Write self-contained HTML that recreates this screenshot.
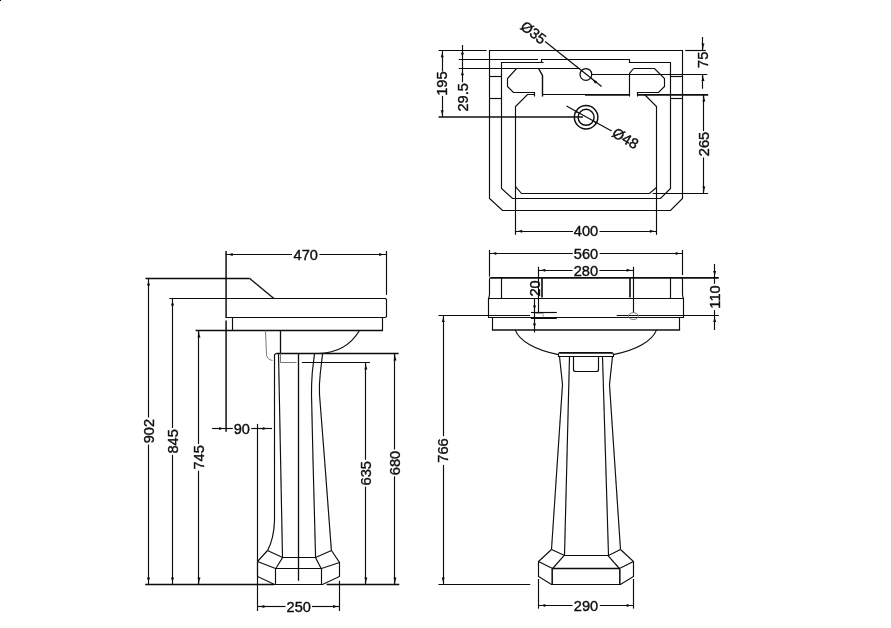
<!DOCTYPE html>
<html><head><meta charset="utf-8"><title>Basin technical drawing</title>
<style>
html,body{margin:0;padding:0;background:#fff;}
body{width:891px;height:628px;overflow:hidden;}
svg{display:block;}
svg .ah{fill:#0a0a0a;stroke:none;}
svg text{font-family:"Liberation Sans",sans-serif;font-size:14.6px;fill:#0a0a0a;stroke:#0a0a0a;stroke-width:0.35px;text-anchor:middle;dominant-baseline:central;}
</style></head><body>
<svg width="891" height="628" viewBox="0 0 891 628">
<defs><filter id="soft" x="0" y="0" width="891" height="628" filterUnits="userSpaceOnUse"><feGaussianBlur stdDeviation="0.3"/></filter></defs>
<rect x="0" y="0" width="891" height="628" fill="#fff" stroke="none"/>
<rect x="0" y="0" width="1" height="1" fill="#000" stroke="none"/>
<g filter="url(#soft)" fill="none" stroke="#0a0a0a" stroke-width="1.15" stroke-linecap="butt" stroke-linejoin="miter">
<path d="M489.5,50.5 H682.5 V198.5 L670.5,210.5 H502.5 L489.5,198.5 Z"/>
<path d="M501.5,62.5 H541.5 V59.5 H629.5 V62.5 H670.5 V188.5 L660.5,198.5 H512.5 L501.5,188.5 Z"/>
<path d="M534.5,94.5 H527.5 L515.5,106.5 V186.5 L521.5,193.5 H649.5 L656.5,187.5 V106.5 L644.5,94.5"/>
<line x1="541.6" y1="62.5" x2="543.5" y2="62.5"/>
<path d="M538.5,68.5 H516.5 L507.5,78.5 V86.5 L513.5,92.5 H534.5 V96.5"/>
<path d="M538.5,68.5 L542.5,75.5 V96.5" stroke-width="1.4"/>
<path d="M633.5,68.5 H654.5 L664.5,78.5 V86.5 L658.5,92.5 H637.5 V96.5"/>
<path d="M633.5,68.5 L629.5,73.5 V96.5"/>
<line x1="542.9" y1="94.5" x2="585" y2="94.5"/>
<line x1="585" y1="94.9" x2="629.7" y2="94.9" stroke-width="1.9"/>
<line x1="489.9" y1="76.5" x2="501.5" y2="76.5"/>
<line x1="670.6" y1="76.5" x2="682.5" y2="76.5"/>
<line x1="489.9" y1="98.5" x2="501.5" y2="98.5"/>
<line x1="670.6" y1="98.5" x2="682.5" y2="98.5"/>
<circle cx="585.9" cy="74.45" r="5.85" stroke-width="1.25"/>
<circle cx="586.1" cy="117.3" r="11.75" stroke-width="1.4"/>
<circle cx="586.1" cy="117.3" r="8.0" stroke-width="1.4"/>
<line x1="545.1" y1="41.5" x2="601.6" y2="86.5"/>
<polygon class="ah" points="590.60,78.10 593.91,80.12 597.07,81.21 595.08,83.71 593.31,80.87"/>
<line x1="566.5" y1="105.9" x2="611.6" y2="131.0"/>
<polygon class="ah" points="579.10,113.40 576.85,112.70 574.65,112.76 576.21,109.96 577.32,111.86"/>
<polygon class="ah" points="593.10,121.20 595.35,121.90 597.55,121.84 595.99,124.64 594.88,122.74"/>
<text x="533.4" y="32.6" transform="rotate(37.5 533.4 32.6)" font-size="14.0">Ø35</text>
<text x="625.3" y="138.4" transform="rotate(30.5 625.3 138.4)" font-size="13.8">Ø48</text>
<line x1="438.6" y1="50.5" x2="486.6" y2="50.5"/>
<line x1="438.6" y1="117.0" x2="583" y2="117.0" stroke-width="1.6"/>
<line x1="442.5" y1="50.4" x2="442.5" y2="71.6"/>
<line x1="442.5" y1="95.9" x2="442.5" y2="117.0"/>
<polygon class="ah" points="442.20,50.40 442.65,54.14 443.70,57.20 440.70,57.20 441.75,54.14"/>
<polygon class="ah" points="442.20,117.00 441.75,113.26 440.70,110.20 443.70,110.20 442.65,113.26"/>
<text x="442.2" y="83.6" transform="rotate(-90 442.2 83.6)">195</text>
<line x1="458.7" y1="59.5" x2="538" y2="59.5"/>
<line x1="458.7" y1="68.5" x2="580" y2="68.5"/>
<line x1="462.5" y1="45.0" x2="462.5" y2="82.3"/>
<polygon class="ah" points="462.40,59.60 461.95,55.86 460.90,52.80 463.90,52.80 462.85,55.86"/>
<polygon class="ah" points="462.40,68.40 462.85,72.14 463.90,75.20 460.90,75.20 461.95,72.14"/>
<text x="462.6" y="97.3" transform="rotate(-90 462.6 97.3)">29.5</text>
<line x1="685.2" y1="50.5" x2="705.9" y2="50.5"/>
<line x1="591.4" y1="74.5" x2="707.3" y2="74.5"/>
<line x1="702.5" y1="37.0" x2="702.5" y2="50.3"/>
<line x1="702.5" y1="74.3" x2="702.5" y2="88.7"/>
<polygon class="ah" points="703.00,50.30 702.55,46.56 701.50,43.50 704.50,43.50 703.45,46.56"/>
<polygon class="ah" points="703.00,74.30 703.45,78.04 704.50,81.10 701.50,81.10 702.55,78.04"/>
<text x="702.8" y="59.8" transform="rotate(-90 702.8 59.8)">75</text>
<line x1="637.2" y1="94.9" x2="708.2" y2="94.9" stroke-width="1.9"/>
<line x1="652.7" y1="193.5" x2="708" y2="193.5"/>
<line x1="703.5" y1="95" x2="703.5" y2="131.1"/>
<line x1="703.5" y1="157.5" x2="703.5" y2="193.3"/>
<polygon class="ah" points="703.90,94.70 704.35,98.44 705.40,101.50 702.40,101.50 703.45,98.44"/>
<polygon class="ah" points="703.90,193.30 703.45,189.56 702.40,186.50 705.40,186.50 704.35,189.56"/>
<text x="704.0" y="144" transform="rotate(-90 704.0 144)">265</text>
<line x1="515.5" y1="186.5" x2="515.5" y2="234.8"/>
<line x1="656.5" y1="186.5" x2="656.5" y2="234.8"/>
<line x1="515.4" y1="231.5" x2="573" y2="231.5"/>
<line x1="599.5" y1="231.5" x2="656.7" y2="231.5"/>
<polygon class="ah" points="515.40,231.30 519.14,230.85 522.20,229.80 522.20,232.80 519.14,231.75"/>
<polygon class="ah" points="656.70,231.30 652.96,231.75 649.90,232.80 649.90,229.80 652.96,230.85"/>
<text x="586" y="231.4">400</text>
<line x1="489.5" y1="249.9" x2="489.5" y2="276.6"/>
<line x1="682.5" y1="249.9" x2="682.5" y2="275"/>
<line x1="489.5" y1="253.5" x2="572.7" y2="253.5"/>
<line x1="599.6" y1="253.5" x2="682.5" y2="253.5"/>
<polygon class="ah" points="489.50,253.40 493.24,252.95 496.30,251.90 496.30,254.90 493.24,253.85"/>
<polygon class="ah" points="682.50,253.40 678.76,253.85 675.70,254.90 675.70,251.90 678.76,252.95"/>
<text x="586" y="253.6">560</text>
<line x1="538.5" y1="266.7" x2="538.5" y2="312.3"/>
<line x1="633.5" y1="266.8" x2="633.5" y2="312.5"/>
<line x1="538.5" y1="270.5" x2="572.6" y2="270.5"/>
<line x1="599.4" y1="270.5" x2="633.4" y2="270.5"/>
<polygon class="ah" points="538.50,270.30 542.24,269.85 545.30,268.80 545.30,271.80 542.24,270.75"/>
<polygon class="ah" points="633.40,270.30 629.66,270.75 626.60,271.80 626.60,268.80 629.66,269.85"/>
<text x="585.9" y="270.5">280</text>
<line x1="490.3" y1="277.9" x2="718.7" y2="277.9" stroke-width="1.75"/>
<path d="M490.5,277.5 Q489.5,278 489.5,279.5 V294.5 Q489.3,297 488.5,298.5"/>
<path d="M681.5,277.5 Q682.5,278 682.5,279.5 V294.5 Q682.7,297 683.5,298.5"/>
<line x1="501.5" y1="277.9" x2="501.5" y2="298.4"/>
<line x1="670.5" y1="277.9" x2="670.5" y2="298.4"/>
<line x1="542.0" y1="278" x2="542.0" y2="297.5" stroke-width="1.8" stroke="#222"/>
<line x1="630.0" y1="278" x2="630.0" y2="297.5" stroke-width="1.8" stroke="#222"/>
<path d="M488.5,298.5 H683.5 V317.5 H488.5 Z"/>
<line x1="492.5" y1="317.5" x2="492.5" y2="330.0"/>
<line x1="679.5" y1="317.5" x2="679.5" y2="330.0"/>
<line x1="491.9" y1="330.0" x2="680.1" y2="330.0" stroke-width="1.35"/>
<line x1="438.5" y1="315.5" x2="530.1" y2="315.5"/>
<line x1="616.7" y1="315.5" x2="718.7" y2="315.5"/>
<path d="M535.5,313.5 H543.2 V317.5" stroke-width="1" stroke="#aaa"/>
<line x1="534.5" y1="298.9" x2="534.5" y2="332.5"/>
<line x1="530.9" y1="312.5" x2="556.8" y2="312.5"/>
<line x1="530.9" y1="318.2" x2="556.8" y2="318.2" stroke-width="1.6"/>
<polygon class="ah" points="534.50,312.20 534.05,308.46 533.00,305.40 536.00,305.40 534.95,308.46"/>
<polygon class="ah" points="534.50,318.40 534.95,322.14 536.00,325.20 533.00,325.20 534.05,322.14"/>
<text x="534.9" y="288.4" transform="rotate(-90 534.9 288.4)">20</text>
<ellipse cx="633.4" cy="316.1" rx="5" ry="3.4" stroke="#777" stroke-width="1"/>
<line x1="714.5" y1="263.9" x2="714.5" y2="283.8"/>
<line x1="714.5" y1="310.1" x2="714.5" y2="330"/>
<polygon class="ah" points="714.70,277.90 714.25,274.16 713.20,271.10 716.20,271.10 715.15,274.16"/>
<polygon class="ah" points="714.70,315.30 715.15,319.04 716.20,322.10 713.20,322.10 714.25,319.04"/>
<text x="714.7" y="297" transform="rotate(-90 714.7 297)">110</text>
<path d="M515.2,329.9 A71.71,32.53 0 0 0 558.4,354.6"/>
<path d="M656.5,329.9 A71.71,32.53 0 0 1 613.3,354.6"/>
<path d="M559.5,352.5 H611.5 Q613.1,352.9 613.5,354.5 V356.5 H558.5 V354.5 Q558.6,352.9 559.5,352.5 Z"/>
<line x1="559.5" y1="352.9" x2="612.2" y2="352.9" stroke-width="1.6"/>
<path d="M573.5,356.4 V369.5 Q573.5,371.5 575.5,371.5 H596.5 Q598.5,371.5 598.5,369.5 V356.4"/>
<path d="M559.5,356.5 L562.5,384.5 L551.5,549.5"/>
<path d="M569.5,356.5 L564.5,555.5"/>
<path d="M602.5,356.5 L608.5,555.5"/>
<path d="M612.5,356.5 L609.5,384.5 L620.5,549.5"/>
<path d="M551.5,549.5 L538.5,561.5 V576.5 L551.5,584.5 H620.5 L633.5,576.5 V561.5 L620.5,549.5"/>
<path d="M551.5,549.5 L564.5,555.5 H608.5 L620.5,549.5"/>
<path d="M538.5,561.5 L552.5,568.5 H619.5 L633.5,561.5"/>
<line x1="564" y1="555.7" x2="552.2" y2="569"/>
<line x1="608" y1="555.7" x2="619.8" y2="569"/>
<line x1="552.2" y1="569" x2="552.2" y2="584.2" stroke-width="1.5"/>
<line x1="619.8" y1="569" x2="619.8" y2="584.2" stroke-width="1.5"/>
<line x1="552.2" y1="568.5" x2="619.8" y2="568.5" stroke-width="1.4"/>
<line x1="538.5" y1="579" x2="538.5" y2="608.6"/>
<line x1="633.5" y1="579" x2="633.5" y2="608.6"/>
<line x1="538.5" y1="605.5" x2="572.6" y2="605.5"/>
<line x1="599.8" y1="605.5" x2="633.5" y2="605.5"/>
<polygon class="ah" points="538.50,605.40 542.24,604.95 545.30,603.90 545.30,606.90 542.24,605.85"/>
<polygon class="ah" points="633.50,605.40 629.76,605.85 626.70,606.90 626.70,603.90 629.76,604.95"/>
<text x="586" y="605.6">290</text>
<line x1="443.5" y1="315.3" x2="443.5" y2="436.2"/>
<line x1="443.5" y1="464.9" x2="443.5" y2="584.4"/>
<polygon class="ah" points="443.20,315.30 443.65,319.04 444.70,322.10 441.70,322.10 442.75,319.04"/>
<polygon class="ah" points="443.20,584.40 442.75,580.66 441.70,577.60 444.70,577.60 443.65,580.66"/>
<line x1="438.4" y1="584.5" x2="530.2" y2="584.5"/>
<text x="443.1" y="450.5" transform="rotate(-90 443.1 450.5)">766</text>
<line x1="226.1" y1="250.9" x2="226.1" y2="317.5" stroke-width="1.45"/>
<line x1="386.5" y1="250.9" x2="386.5" y2="294.9"/>
<line x1="225.9" y1="254.5" x2="292" y2="254.5"/>
<line x1="319.4" y1="254.5" x2="386" y2="254.5"/>
<polygon class="ah" points="225.90,254.50 229.64,254.05 232.70,253.00 232.70,256.00 229.64,254.95"/>
<polygon class="ah" points="386.00,254.50 382.26,254.95 379.20,256.00 379.20,253.00 382.26,254.05"/>
<text x="305.8" y="254.6">470</text>
<path d="M145.5,278.5 H249.5" stroke-width="1.6"/>
<line x1="249.4" y1="278.2" x2="273.9" y2="298.4" stroke-width="1.3"/>
<line x1="169.5" y1="298.5" x2="386" y2="298.5"/>
<path d="M225.5,298.5 H384.5 Q386,298.4 386.5,299.5 V316.5 Q386,317.5 384.5,317.5 H225.5"/>
<path d="M232.5,317.5 V330.5 H382.5 V317.5"/>
<line x1="195.6" y1="330.5" x2="382.8" y2="330.5" stroke-width="1.3"/>
<line x1="226.1" y1="320.5" x2="226.1" y2="431.8" stroke-width="1.45"/>
<line x1="280.5" y1="330.6" x2="280.5" y2="353.5" stroke-width="1.3"/>
<path d="M359.5,330.5 C352,343 340,353 318.5,353.5"/>
<line x1="276.4" y1="353.5" x2="398.6" y2="353.5" stroke-width="1.3"/>
<line x1="302" y1="362.5" x2="370" y2="362.5"/>
<path d="M265.5,330.5 L266.5,354.5 Q267,359.5 272.5,360.5" stroke-width="1" stroke="#777"/>
<path d="M280.5,353.5 L280.5,362.5 H296.5" stroke-width="1" stroke="#777"/>
<path d="M276.6,353.5 Q274.5,353.5 274.5,355.6 V520.4 Q274,538 267.6,550.6"/>
<path d="M278.5,353.5 L282.5,557.5"/>
<line x1="298.5" y1="353.5" x2="298.5" y2="580.8" stroke-width="1.3"/>
<path d="M314.5,353.6 L312.3,372.3 Q311.4,384 311.5,394.5 L313,460 L315.6,557.7"/>
<path d="M322.6,353.6 L320.4,372.3 Q319,384 319.5,394.5 L324.6,460 L331.4,550.6"/>
<path d="M267.5,550.5 L257.5,561.5 V576.5 L274.5,584.5 H322.5 L339.5,576.5 V562.5 L331.5,550.5"/>
<path d="M267.5,550.5 L282.5,557.5 H315.5 L331.5,550.5"/>
<path d="M257.5,561.5 L275.5,568.5 H321.5 L339.5,562.5"/>
<line x1="282.5" y1="557.7" x2="275.5" y2="569"/>
<line x1="315.6" y1="557.7" x2="321.4" y2="569"/>
<line x1="275.5" y1="569" x2="275.5" y2="584"/>
<line x1="321.5" y1="569" x2="321.5" y2="584"/>
<line x1="145.2" y1="584.5" x2="274" y2="584.5" stroke-width="1.3"/>
<line x1="326.7" y1="584.5" x2="399.3" y2="584.5" stroke-width="1.3"/>
<line x1="148.5" y1="278.6" x2="148.5" y2="417.5"/>
<line x1="148.5" y1="444.6" x2="148.5" y2="584.4"/>
<polygon class="ah" points="148.50,278.60 148.95,282.34 150.00,285.40 147.00,285.40 148.05,282.34"/>
<polygon class="ah" points="148.50,584.40 148.05,580.66 147.00,577.60 150.00,577.60 148.95,580.66"/>
<text x="148.6" y="431.05" transform="rotate(-90 148.6 431.05)">902</text>
<line x1="172.5" y1="298.6" x2="172.5" y2="428"/>
<line x1="172.5" y1="454.8" x2="172.5" y2="584.4"/>
<polygon class="ah" points="172.50,298.60 172.95,302.34 174.00,305.40 171.00,305.40 172.05,302.34"/>
<polygon class="ah" points="172.50,584.40 172.05,580.66 171.00,577.60 174.00,577.60 172.95,580.66"/>
<text x="172.6" y="441.4" transform="rotate(-90 172.6 441.4)">845</text>
<line x1="198.5" y1="330.8" x2="198.5" y2="444"/>
<line x1="198.5" y1="470.7" x2="198.5" y2="584.4"/>
<polygon class="ah" points="199.00,330.80 199.45,334.54 200.50,337.60 197.50,337.60 198.55,334.54"/>
<polygon class="ah" points="199.00,584.40 198.55,580.66 197.50,577.60 200.50,577.60 199.45,580.66"/>
<text x="199.1" y="457.35" transform="rotate(-90 199.1 457.35)">745</text>
<line x1="365.5" y1="362.7" x2="365.5" y2="459.8"/>
<line x1="365.5" y1="486.7" x2="365.5" y2="584.4"/>
<polygon class="ah" points="365.90,362.70 366.35,366.44 367.40,369.50 364.40,369.50 365.45,366.44"/>
<polygon class="ah" points="365.90,584.40 365.45,580.66 364.40,577.60 367.40,577.60 366.35,580.66"/>
<text x="366.0" y="473.25" transform="rotate(-90 366.0 473.25)">635</text>
<line x1="394.5" y1="353.6" x2="394.5" y2="449.5"/>
<line x1="394.5" y1="476.4" x2="394.5" y2="584.4"/>
<polygon class="ah" points="395.00,353.60 395.45,357.34 396.50,360.40 393.50,360.40 394.55,357.34"/>
<polygon class="ah" points="395.00,584.40 394.55,580.66 393.50,577.60 396.50,577.60 395.45,580.66"/>
<text x="395.1" y="462.95" transform="rotate(-90 395.1 462.95)">680</text>
<line x1="212.1" y1="428.5" x2="232.8" y2="428.5"/>
<line x1="251.2" y1="428.5" x2="272" y2="428.5"/>
<polygon class="ah" points="225.90,428.60 222.16,429.05 219.10,430.10 219.10,427.10 222.16,428.15"/>
<polygon class="ah" points="257.60,428.60 261.34,428.15 264.40,427.10 264.40,430.10 261.34,429.05"/>
<text x="241.8" y="428.8">90</text>
<line x1="257.5" y1="423.9" x2="257.5" y2="611"/>
<line x1="339.5" y1="580.8" x2="339.5" y2="611"/>
<line x1="257.6" y1="606.5" x2="285.5" y2="606.5"/>
<line x1="312" y1="606.5" x2="339.8" y2="606.5"/>
<polygon class="ah" points="257.60,606.50 261.34,606.05 264.40,605.00 264.40,608.00 261.34,606.95"/>
<polygon class="ah" points="339.80,606.50 336.06,606.95 333.00,608.00 333.00,605.00 336.06,606.05"/>
<text x="298.8" y="606.7">250</text>
</g>
</svg>
</body></html>
